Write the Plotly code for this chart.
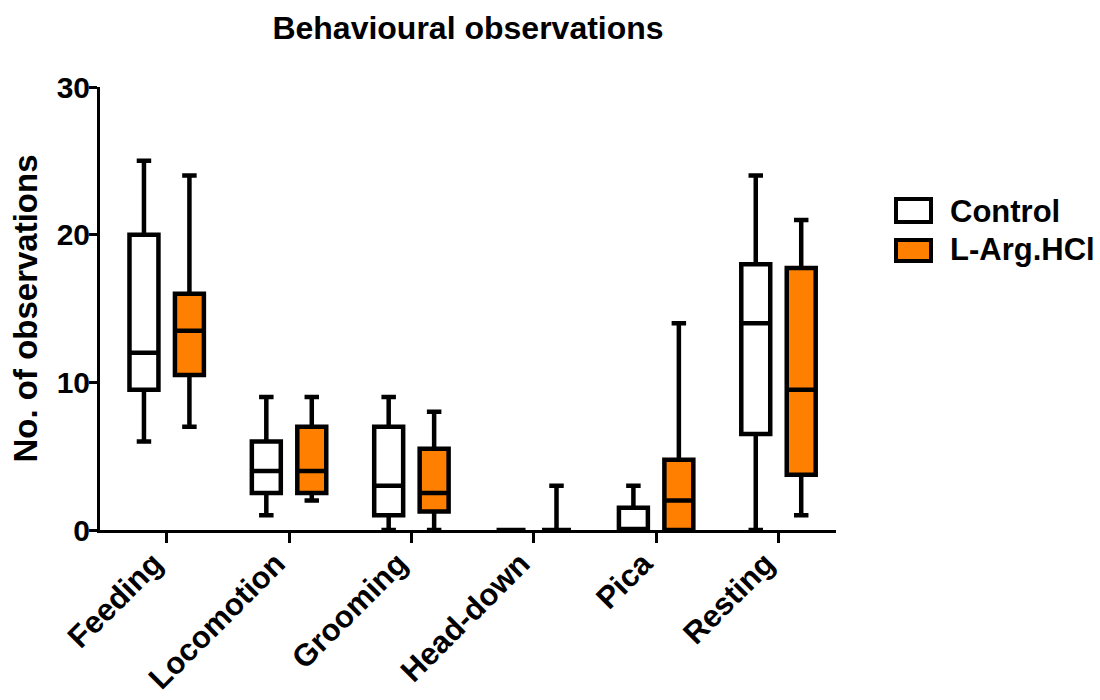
import plotly.graph_objects as go

categories = ["Feeding", "Locomotion", "Grooming", "Head-down", "Pica", "Resting"]

control_lower = [6, 1, 0, 0, 0, 0]
control_q1 = [9.5, 2.5, 1, 0, 0, 6.5]
control_median = [12, 4, 3, 0, 0, 14]
control_q3 = [20, 6, 7, 0, 1.5, 18]
control_upper = [25, 9, 9, 0, 3, 24]

larg_lower = [7, 2, 0, 0, 0, 1]
larg_q1 = [10.5, 2.5, 1.25, 0, 0, 3.75]
larg_median = [13.5, 4, 2.5, 0, 2, 9.5]
larg_q3 = [16, 7, 5.5, 0, 4.75, 17.75]
larg_upper = [24, 9, 8, 3, 14, 21]

series_names = ["Control", "L-Arg.HCl"]
series_colors = ["#FFFFFF", "#FF8000"]

FONT = "Liberation Sans, Arial, sans-serif"

fig = go.Figure()
fig.add_trace(go.Box(
    x=categories, q1=control_q1, median=control_median, q3=control_q3,
    lowerfence=control_lower, upperfence=control_upper,
    name=series_names[0], fillcolor=series_colors[0],
    line=dict(color="black", width=4.5), whiskerwidth=0.5,
    boxpoints=False, showlegend=False, hoverinfo="y"))
fig.add_trace(go.Box(
    x=categories, q1=larg_q1, median=larg_median, q3=larg_q3,
    lowerfence=larg_lower, upperfence=larg_upper,
    name=series_names[1], fillcolor=series_colors[1],
    line=dict(color="black", width=4.5), whiskerwidth=0.5,
    boxpoints=False, showlegend=False, hoverinfo="y"))

L, R, T, B = 100, 264, 87, 170
W, H = 1100, 700
pw, ph = W - L - R, H - T - B

def px(x):
    return (x - L) / pw

def py(y):
    return (H - B - y) / ph

# manual legend
shapes = []
annotations = []
legend_rows = [(199, 222, 211), (240, 261, 249)]
for (y0, y1, yc), name, col in zip(legend_rows, series_names, series_colors):
    shapes.append(dict(type="rect", xref="paper", yref="paper",
                       x0=px(896), x1=px(931), y0=py(y1), y1=py(y0),
                       fillcolor=col, line=dict(color="black", width=4)))
    annotations.append(dict(text=name, xref="paper", yref="paper",
                            x=px(948), y=py(yc), xanchor="left", yanchor="middle",
                            showarrow=False,
                            font=dict(family=FONT, size=31, color="black", weight="bold")))

fig.update_layout(
    width=W, height=H,
    margin=dict(l=L, r=R, t=T, b=B, autoexpand=False),
    paper_bgcolor="white", plot_bgcolor="white",
    boxmode="group", boxgap=0.257, boxgroupgap=0.363,
    title=dict(text="Behavioural observations", x=0.5, xref="paper",
               y=1 - 28 / H, yref="container", yanchor="middle", xanchor="center",
               font=dict(family=FONT, size=32, color="black", weight="bold")),
    shapes=shapes, annotations=annotations,
    showlegend=False,
)
fig.update_xaxes(
    type="category", range=[-0.545, 5.47], automargin=False,
    showline=True, linecolor="black", linewidth=3,
    ticks="outside", ticklen=10, tickwidth=3, tickcolor="black",
    tickangle=-45, showgrid=False, zeroline=False,
    ticklabelshift=-13, ticklabelstandoff=-10,
    tickfont=dict(family=FONT, size=31, color="black", weight="bold"),
)
fig.update_yaxes(
    range=[0, 30], tickvals=[0, 10, 20, 30], automargin=False,
    showline=True, linecolor="black", linewidth=3,
    ticks="outside", ticklen=8, tickwidth=3, tickcolor="black",
    showgrid=False, zeroline=False, ticklabelstandoff=-7,
    tickfont=dict(family=FONT, size=30, color="black", weight="bold"),
    title=dict(text="No. of observations", standoff=10,
               font=dict(family=FONT, size=33, color="black", weight="bold")),
)

fig.write_html("out.html", config={"displayModeBar": False},
               post_script="document.body.style.margin='0';document.body.style.overflow='hidden';")
